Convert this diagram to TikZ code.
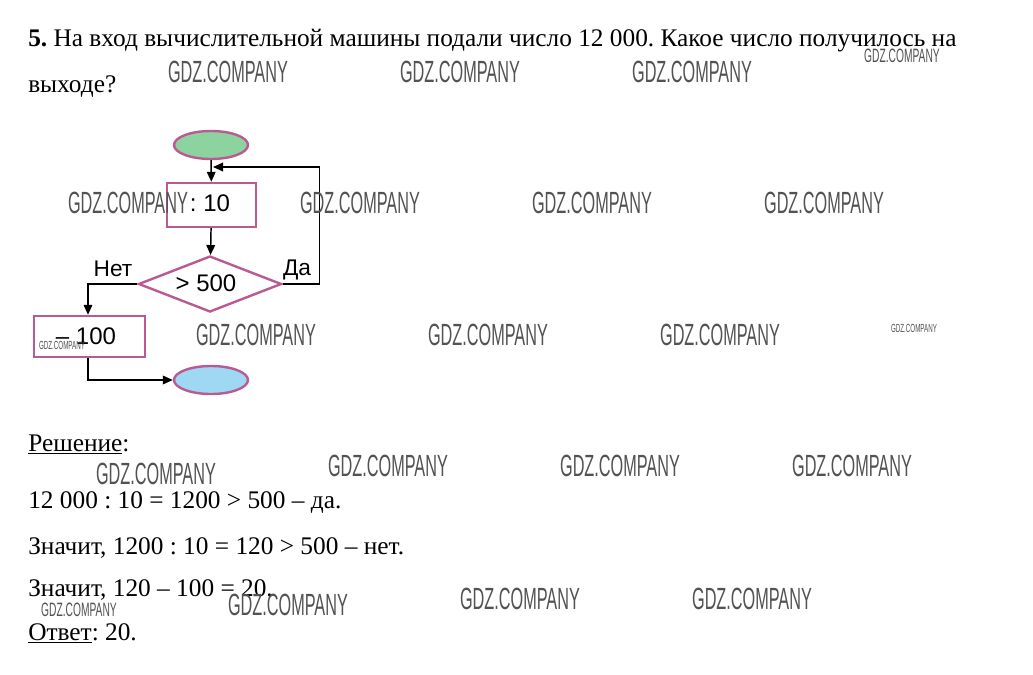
\documentclass[tikz,border=0pt]{standalone}
\usepackage{fontspec}
\setmainfont{Liberation Serif}
\newfontfamily\arialf{Liberation Sans}
\usetikzlibrary{shapes.geometric,arrows.meta}
\definecolor{bord}{HTML}{BA5A92}
\definecolor{startfill}{HTML}{8DD3A0}
\definecolor{endfill}{HTML}{9ED8F2}
\newcommand\wm{\scalebox{0.53}[1]{GDZ.COMPANY}}
\frenchspacing
\begin{document}
\begin{tikzpicture}[x=0.75pt,y=-0.75pt,
  txt/.style={anchor=base west,inner sep=0,font=\fontsize{19}{21}\selectfont},
  wmk/.style={inner sep=0,text=black!68,font=\arialf\fontsize{23}{23}\selectfont},
  wms/.style={inner sep=0,text=black!68,font=\arialf\fontsize{14.5}{14.5}\selectfont},
  wmt/.style={inner sep=0,text=black!68,font=\arialf\fontsize{8.8}{8.8}\selectfont},
  term/.style={ellipse,draw=bord,line width=1.8pt,minimum width=55.5pt,minimum height=21pt,inner sep=0},
  procbox/.style={rectangle,draw=bord,line width=1.8pt,inner sep=0},
  decis/.style={diamond,draw=bord,line width=1.8pt,inner sep=0,aspect=2.55,minimum width=107.25pt,minimum height=42pt},
  lbl/.style={inner sep=0,font=\arialf\fontsize{17}{17}\selectfont},
  blbl/.style={inner sep=0,font=\arialf\fontsize{18}{18}\selectfont},
  arr/.style={line width=1.1pt,-{Triangle[length=7.5pt,width=6.5pt]}}]
\useasboundingbox (0,0) rectangle (1033,675);
\fill[white] (0,0) rectangle (1033,675);
% question text
\node[txt] (q1) at (28,46) {\textbf{5.} На вход вычислительной машины подали число 12 000. Какое число получилось на};
\node[txt] (q2) at (28,92) {выходе?};
% flowchart
\node[term,fill=startfill] (start) at (211,145) {};
\node[procbox,minimum width=66.75pt,minimum height=33pt] (div) at (211.5,205) {};
\node[blbl] (divt) at (210,203) {: 10};
\node[decis] (dec) at (210,284) {};
\node[blbl] (dect) at (206,283) {> 500};
\node[procbox,minimum width=83.25pt,minimum height=30.75pt] (sub) at (89.5,336.5) {};
\node[blbl] (subt) at (86,336) {– 100};
\node[term,fill=endfill] (stop) at (211,380) {};
\node[lbl] (net) at (113,269) {Нет};
\node[lbl] (da) at (297,270) {Да};
\coordinate (loopend) at (213,167);
\draw[arr] (start) -- (div);
\draw[arr] (div) -- (dec);
\draw[arr] (dec.east) -- ++(37,0) |- (loopend);
\draw[arr] (dec.west) -| (sub.north -| 88,0);
\draw[arr] (sub.south -| 88,0) |- (stop.west);
% solution
\node[txt] (r0) at (28,451) {\underline{Решение}:};
\node[txt] (r1) at (28,508) {12 000 : 10 = 1200 > 500 – да.};
\node[txt] (r2) at (28,554) {Значит, 1200 : 10 = 120 > 500 – нет.};
\node[txt] (r3) at (28,596) {Значит, 120 – 100 = 20.};
\node[txt] (r4) at (28,640) {\underline{Ответ}: 20.};
% watermarks
\node[wmk] (w1) at (228,72) {\wm};
\node[wmk] (w2) at (460,72) {\wm};
\node[wmk] (w3) at (692,72) {\wm};
\node[wms] (w4) at (902,56) {\wm};
\node[wmk] (w5) at (128,203) {\wm};
\node[wmk] (w6) at (360,203) {\wm};
\node[wmk] (w7) at (592,203) {\wm};
\node[wmk] (w8) at (824,203) {\wm};
\node[wmk] (w9) at (256,335) {\wm};
\node[wmk] (w10) at (488,335) {\wm};
\node[wmk] (w11) at (720,335) {\wm};
\node[wmt] (w12) at (914,328) {\wm};
\node[wmt] (w13) at (62,345) {\wm};
\node[wmk] (w14) at (156,474) {\wm};
\node[wmk] (w15) at (388,466) {\wm};
\node[wmk] (w16) at (620,466) {\wm};
\node[wmk] (w17) at (852,466) {\wm};
\node[wms] (w18) at (79,610) {\wm};
\node[wmk] (w19) at (288,605) {\wm};
\node[wmk] (w20) at (520,599) {\wm};
\node[wmk] (w21) at (752,599) {\wm};
\end{tikzpicture}
\end{document}
